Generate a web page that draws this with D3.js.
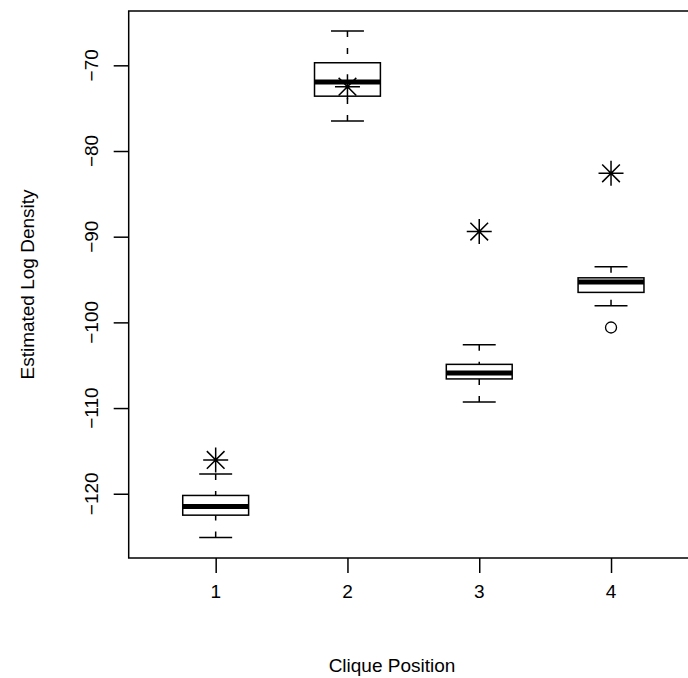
<!DOCTYPE html>
<html>
<head>
<meta charset="utf-8">
<script src="https://cdn.jsdelivr.net/npm/d3@7"></script>
<style>
  body { margin: 0; background: #fff; }
  svg { display: block; }
  text { font-family: "Liberation Sans", Arial, Helvetica, sans-serif; fill: #000; font-size: 19px; }
</style>
</head>
<body>
<svg id="chart" width="688" height="678"></svg>
<script>
// clique positions (x categories)
const positions = [1, 2, 3, 4]
// five-number summaries
const lowerWhisker = [-125.1, -76.5, -109.3, -98.05]
const q1 = [-122.5, -73.6, -106.6, -96.5]
const medians = [-121.5, -71.95, -105.9, -95.3]
const q3 = [-120.2, -69.7, -104.9, -94.8]
const upperWhisker = [-117.7, -66.0, -102.6, -93.5]
// outlier circles
const outliers = [{ pos: 4, value: -100.6 }]
// star markers (one per position)
const stars = [-116.06, -72.5, -89.4, -82.6]

const yTicks = [-120, -110, -100, -90, -80, -70]

const svg = d3.select('#chart')

const x = d3.scaleLinear().domain([0.34, 4.66]).range([128.7, 698])
const y = d3.scaleLinear().domain([-127.5, -63.66]).range([558, 11])

const boxHalf = 0.25
const capHalf = 0.125
const tickLen = 15
const fmt = (d) => String(d).replace('-', '\u2212')

const boxes = positions.map((p, i) => ({
	pos: p,
	lo: lowerWhisker[i],
	q1: q1[i],
	med: medians[i],
	q3: q3[i],
	hi: upperWhisker[i]
}))

// frame (right side falls off the page like the reference)
svg.append('rect')
	.attr('x', x.range()[0])
	.attr('y', y.range()[1])
	.attr('width', x.range()[1] - x.range()[0])
	.attr('height', y.range()[0] - y.range()[1])
	.attr('fill', 'none')
	.attr('stroke', '#000')
	.attr('stroke-width', 1.5)

// y axis ticks
svg.append('g')
	.attr('transform', `translate(${x.range()[0]},0)`)
	.call(d3.axisLeft(y).tickValues(yTicks).tickSize(tickLen).tickFormat(''))
	.call((g) => g.select('.domain').remove())
	.call((g) => g.selectAll('line').attr('stroke-width', 1.5))

svg.append('g')
	.selectAll('text')
	.data(yTicks)
	.join('text')
	.attr('text-anchor', 'middle')
	.attr('transform', (d) => `translate(98,${y(d)}) rotate(-90)`)
	.text(fmt)

// x axis ticks
svg.append('g')
	.attr('transform', `translate(0,${y.range()[0]})`)
	.call(d3.axisBottom(x).tickValues(positions).tickSize(tickLen).tickFormat(''))
	.call((g) => g.select('.domain').remove())
	.call((g) => g.selectAll('line').attr('stroke-width', 1.5))

svg.append('g')
	.selectAll('text')
	.data(positions)
	.join('text')
	.attr('text-anchor', 'middle')
	.attr('x', (d) => x(d))
	.attr('y', 598)
	.text((d) => d)

// axis titles
svg.append('text')
	.attr('x', 392)
	.attr('y', 672)
	.attr('text-anchor', 'middle')
	.text('Clique Position')

svg.append('text')
	.attr('transform', `translate(34,${(y.range()[0] + y.range()[1]) / 2}) rotate(-90)`)
	.attr('text-anchor', 'middle')
	.text('Estimated Log Density')

// boxplots
const bp = svg.append('g').attr('stroke', '#000').attr('fill', 'none')

const groups = bp.selectAll('g.box')
	.data(boxes)
	.join('g')
	.attr('class', 'box')

// dashed whiskers, drawn from cap to box
groups.append('line')
	.attr('x1', (d) => x(d.pos)).attr('x2', (d) => x(d.pos))
	.attr('y1', (d) => y(d.hi)).attr('y2', (d) => y(d.q3))
	.attr('stroke-width', 1.5)
	.attr('stroke-dasharray', '6,11')
groups.append('line')
	.attr('x1', (d) => x(d.pos)).attr('x2', (d) => x(d.pos))
	.attr('y1', (d) => y(d.lo)).attr('y2', (d) => y(d.q1))
	.attr('stroke-width', 1.5)
	.attr('stroke-dasharray', '6,11')

// caps
groups.selectAll('line.cap')
	.data((d) => [d.lo, d.hi].map((v) => ({ pos: d.pos, v })))
	.join('line')
	.attr('class', 'cap')
	.attr('x1', (d) => x(d.pos - capHalf))
	.attr('x2', (d) => x(d.pos + capHalf))
	.attr('y1', (d) => y(d.v))
	.attr('y2', (d) => y(d.v))
	.attr('stroke-width', 1.5)

// box
groups.append('rect')
	.attr('x', (d) => x(d.pos - boxHalf))
	.attr('width', (d) => x(d.pos + boxHalf) - x(d.pos - boxHalf))
	.attr('y', (d) => y(d.q3))
	.attr('height', (d) => y(d.q1) - y(d.q3))
	.attr('fill', '#fff')
	.attr('stroke-width', 1.5)

// median
groups.append('line')
	.attr('x1', (d) => x(d.pos - boxHalf))
	.attr('x2', (d) => x(d.pos + boxHalf))
	.attr('y1', (d) => y(d.med))
	.attr('y2', (d) => y(d.med))
	.attr('stroke-width', 5)

// outliers
bp.selectAll('circle.out')
	.data(outliers)
	.join('circle')
	.attr('class', 'out')
	.attr('cx', (d) => x(d.pos))
	.attr('cy', (d) => y(d.value))
	.attr('r', 5.5)
	.attr('stroke-width', 1.3)

// star markers (R pch 8: + over x)
const arm = 12.5
const diag = arm / Math.SQRT2
const starG = svg.append('g').attr('stroke', '#000').attr('stroke-width', 1.5)
starG.selectAll('path')
	.data(stars.map((v, i) => ({ pos: positions[i], v })))
	.join('path')
	.attr('fill', 'none')
	.attr('d', (d) => {
		const cx = x(d.pos)
		const cy = y(d.v)
		return `M${cx - arm},${cy}H${cx + arm}` +
			`M${cx},${cy - arm}V${cy + arm}` +
			`M${cx - diag},${cy - diag}L${cx + diag},${cy + diag}` +
			`M${cx - diag},${cy + diag}L${cx + diag},${cy - diag}`
	})
</script>
</body>
</html>
